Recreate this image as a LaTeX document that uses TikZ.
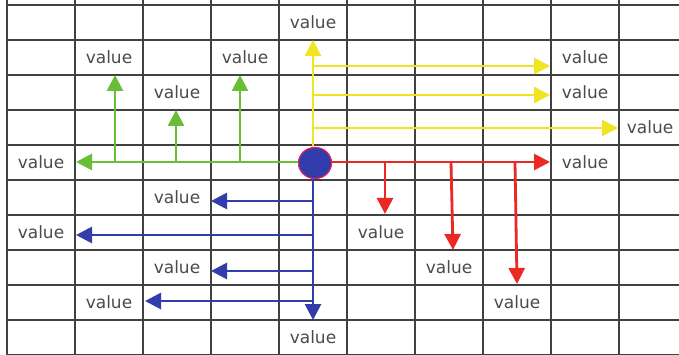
\documentclass[tikz,border=0pt]{standalone}
\usepackage{fontspec}
\setmainfont{DejaVu Sans}
\usetikzlibrary{arrows.meta,shapes.geometric}
\definecolor{gridc}{RGB}{65,65,65}
\definecolor{txtc}{RGB}{75,75,75}
\definecolor{cgreen}{RGB}{105,190,55}
\definecolor{cyellow}{RGB}{240,228,35}
\definecolor{cred}{RGB}{235,40,35}
\definecolor{cblue}{RGB}{50,60,170}
\tikzset{
  gridline/.style={draw=gridc,line width=1.7pt},
  val/.style={text=txtc,font=\fontsize{17}{19}\selectfont,inner sep=1pt},
  arr/.style={line width=2.8pt,-{Triangle[length=16pt,width=16pt]}},
  garr/.style={arr,draw=cgreen,fill=cgreen},
  yarr/.style={arr,draw=cyellow,fill=cyellow},
  rarr/.style={arr,draw=cred,fill=cred},
  barr/.style={arr,draw=cblue,fill=cblue},
  hub/.style={ellipse,draw=cred!70!magenta,line width=1pt,fill=cblue,minimum width=33pt,minimum height=31pt,inner sep=0pt}
}
\begin{document}
\begin{tikzpicture}[x=1pt,y=-1pt]
\useasboundingbox (0,0) rectangle (679,355);
\fill[white] (0,0) rectangle (679,355);
% grid
\foreach \k in {0,...,9} {\draw[gridline] ({7+68*\k},0) -- ({7+68*\k},355);}
\foreach \k in {0,...,10} {\draw[gridline] (7,{5+35*\k}) -- (679,{5+35*\k});}
% labels: (col,row) -> (41+68c, 22.5+35r)
\node[val] (v04) at (313,22.5) {value};
\node[val] (v11) at (109,57.5) {value};
\node[val] (v13) at (245,57.5) {value};
\node[val] (v18) at (585,57.5) {value};
\node[val] (v22) at (177,92.5) {value};
\node[val] (v28) at (585,92.5) {value};
\node[val] (v39) at (650,127.5) {value};
\node[val] (v40) at (41,162.5) {value};
\node[val] (v48) at (585,162.5) {value};
\node[val] (v52) at (177,197.5) {value};
\node[val] (v60) at (41,232.5) {value};
\node[val] (v65) at (381,232.5) {value};
\node[val] (v72) at (177,267.5) {value};
\node[val] (v76) at (449,267.5) {value};
\node[val] (v81) at (109,302.5) {value};
\node[val] (v87) at (517,302.5) {value};
\node[val] (v94) at (313,337.5) {value};
% hub
\node[hub] (c) at (315,163) {};
% coordinates
\coordinate (gT) at (76,162);
\coordinate (g1) at (115,162); \coordinate (g1t) at (115,75);
\coordinate (g2) at (176,162); \coordinate (g2t) at (176,110);
\coordinate (g3) at (240,162); \coordinate (g3t) at (240,75);
\coordinate (yT) at (313,40);
\coordinate (y1) at (313,66); \coordinate (y1t) at (550,66);
\coordinate (y2) at (313,95); \coordinate (y2t) at (550,95);
\coordinate (y3) at (313,128); \coordinate (y3t) at (618,128);
\coordinate (rT) at (550,162);
\coordinate (r1) at (385,162); \coordinate (r1t) at (385,214);
\coordinate (r2) at (451,162); \coordinate (r2t) at (453,250);
\coordinate (r3) at (515,162); \coordinate (r3t) at (517,284);
\coordinate (bT) at (313,320);
\coordinate (b1) at (313,201); \coordinate (b1t) at (211,201);
\coordinate (b2) at (313,235); \coordinate (b2t) at (76,235);
\coordinate (b3) at (313,271); \coordinate (b3t) at (211,271);
\coordinate (b4) at (313,301); \coordinate (b4t) at (145,301);
% green
\draw[garr] (c.west |- gT) -- (gT);
\draw[garr] (g1) -- (g1t);
\draw[garr] (g2) -- (g2t);
\draw[garr] (g3) -- (g3t);
% yellow
\draw[yarr] (c.north -| yT) -- (yT);
\draw[yarr] (y1) -- (y1t);
\draw[yarr] (y2) -- (y2t);
\draw[yarr] (y3) -- (y3t);
% red
\draw[rarr] (c.east |- rT) -- (rT);
\draw[rarr] (r1) -- (r1t);
\draw[rarr] (r2) -- (r2t);
\draw[rarr] (r3) -- (r3t);
% blue
\draw[barr] (c.south -| bT) -- (bT);
\draw[barr] (b1) -- (b1t);
\draw[barr] (b2) -- (b2t);
\draw[barr] (b3) -- (b3t);
\draw[barr] (b4) -- (b4t);
\node[hub] at (c) {};
\end{tikzpicture}
\end{document}
